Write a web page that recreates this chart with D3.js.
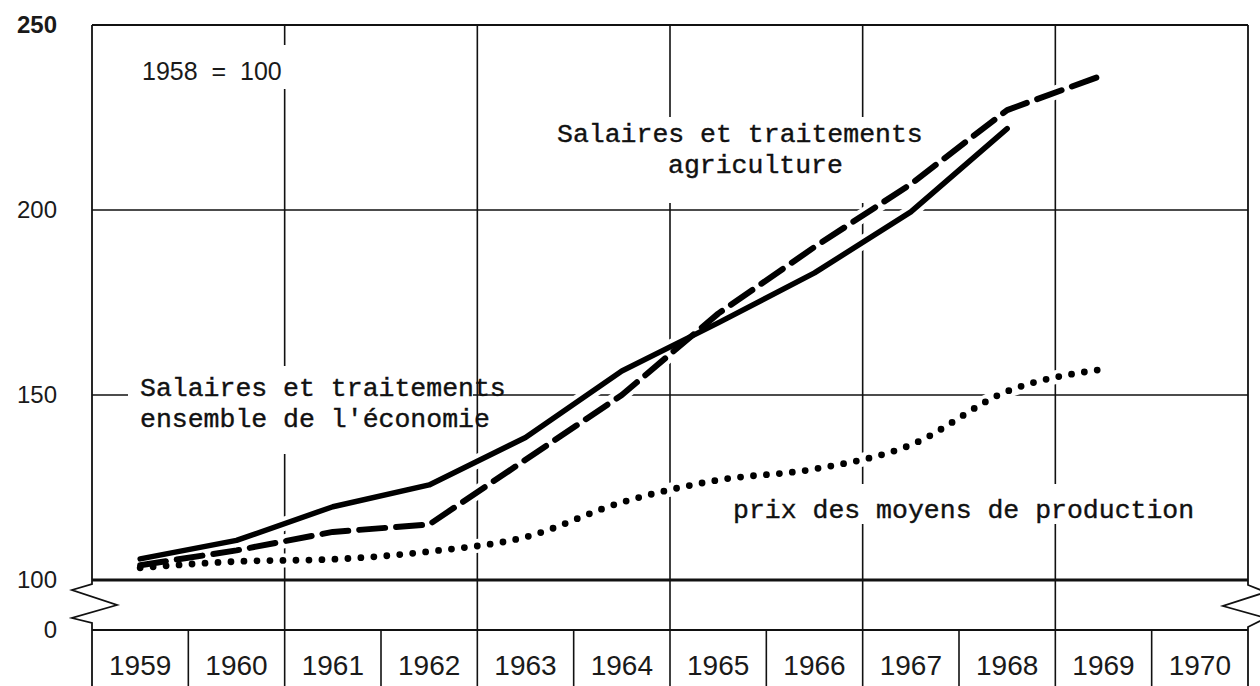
<!DOCTYPE html>
<html>
<head>
<meta charset="utf-8">
<script src="https://cdnjs.cloudflare.com/ajax/libs/d3/7.8.5/d3.min.js"></script>
<style>
  html, body { margin: 0; padding: 0; background: #fff; }
  svg { display: block; }
  .tick-label { font-family: "Liberation Sans", Arial, sans-serif; fill: #1a1a1a; }
  .mono { font-family: "Liberation Mono", "Courier New", monospace; fill: #111; stroke: #111; stroke-width: 0.4px; }
</style>
</head>
<body>
<svg class="chart"></svg>
<script>
"use strict";

var width = 1260;
var height = 686;

// index values, 1958 = 100
var years = ["1959", "1960", "1961", "1962", "1963", "1964", "1965", "1966", "1967", "1968", "1969", "1970"];
var ensemble = [105.7, 110.7, 119.8, 125.7, 138.5, 156.5, 169.5, 183, 199.5, 222];
var agriculture = [104, 108, 113, 115, 132.5, 150, 172, 190, 207, 227, 236.5];
var prixProduction = [103.3, 105, 105.6, 107.7, 111.6, 121, 127, 130, 136.5, 151, 157];
var yTicks = [250, 200, 150, 100];
var zeroLabel = "0";

var svg = d3.select(".chart").attr("width", width).attr("height", height);

var plotLeft = 92, plotRight = 1248, plotTop = 25, breakY = 630;

var x = d3.scaleBand().domain(years).range([plotLeft, plotRight]).padding(0);
var y = d3.scaleLinear().domain([100, 250]).range([580, plotTop]);

var cx = function (i) {
  return x(years[i]) + x.bandwidth() / 2;
};

var grid = svg.append("g").attr("stroke", "#111").attr("fill", "none");

// horizontal rules
grid.selectAll("line.h").data([200, 150]).enter().append("line")
  .attr("x1", plotLeft).attr("x2", plotRight)
  .attr("y1", function (d) { return y(d); }).attr("y2", function (d) { return y(d); })
  .attr("stroke-width", 1.6);
grid.append("line").attr("x1", plotLeft).attr("x2", plotRight).attr("y1", y(250)).attr("y2", y(250)).attr("stroke-width", 2.2);

// vertical rules every two years, running through the break strip
var majors = years.filter(function (d, i) { return i % 2 === 0 && i > 0; });
grid.selectAll("line.v").data(majors).enter().append("line")
  .attr("x1", function (d) { return x(d); }).attr("x2", function (d) { return x(d); })
  .attr("y1", plotTop).attr("y2", breakY)
  .attr("stroke-width", 1.6);

// white boxes behind the captions (the draughtsman left the grid open there)
var holes = [[135, 45, 165, 44], [550, 117, 382, 86], [128, 366, 345, 88], [724, 484, 478, 40]];
svg.selectAll("rect.hole").data(holes).enter().append("rect")
  .attr("x", function (d) { return d[0]; }).attr("y", function (d) { return d[1]; })
  .attr("width", function (d) { return d[2]; }).attr("height", function (d) { return d[3]; })
  .attr("fill", "#fff");

// frame with broken axis
var frame = svg.append("g").attr("stroke", "#111").attr("fill", "none").attr("stroke-width", 1.8);
frame.append("path").attr("d", "M" + plotLeft + "," + plotTop + "V584L72,590L117,605L72,618L" + plotLeft + ",623V" + height);
frame.append("path").attr("d", "M" + plotRight + "," + plotTop + "V585L1266,592L1223,606L1266,618L" + plotRight + ",627V" + height);
frame.append("line").attr("x1", plotLeft).attr("x2", plotRight).attr("y1", y(100)).attr("y2", y(100)).attr("stroke-width", 3.2);
frame.append("line").attr("x1", plotLeft).attr("x2", plotRight).attr("y1", breakY).attr("y2", breakY).attr("stroke-width", 2);
frame.selectAll("line.box").data(years.slice(1)).enter().append("line")
  .attr("x1", function (d) { return x(d); }).attr("x2", function (d) { return x(d); })
  .attr("y1", breakY).attr("y2", height)
  .attr("stroke-width", 1.6);

// series
var straight = d3.line().x(function (d, i) { return cx(i); }).y(function (d) { return y(d); });
var smooth = d3.line().x(function (d, i) { return cx(i); }).y(function (d) { return y(d); }).curve(d3.curveMonotoneX);

var series = [
  { values: ensemble, gen: straight, dash: null, w: 5.5 },
  { values: agriculture, gen: straight, dash: "26 11", w: 6 },
  { values: prixProduction, gen: smooth, dash: "0 13", w: 6.8 }
];

svg.selectAll("path.casing").data(series).enter().append("path")
  .attr("d", function (d) { return d.gen(d.values); })
  .attr("fill", "none").attr("stroke", "#fff").attr("stroke-width", 14)
  .attr("stroke-linejoin", "round");

svg.selectAll("path.serie").data(series).enter().append("path")
  .attr("d", function (d) { return d.gen(d.values); })
  .attr("fill", "none").attr("stroke", "#000")
  .attr("stroke-width", function (d) { return d.w; })
  .attr("stroke-dasharray", function (d) { return d.dash; })
  .attr("stroke-linecap", "round").attr("stroke-linejoin", "round");

// y axis labels
var yAxis = d3.axisLeft(y).tickValues(yTicks).tickSize(0).tickPadding(35).tickFormat(d3.format("d"));
var ya = svg.append("g").attr("transform", "translate(" + plotLeft + ",0)").call(yAxis);
ya.select(".domain").remove();
ya.selectAll("text").attr("class", "tick-label").style("font-size", "24px")
  .style("font-weight", function (d) { return d === 250 ? "bold" : "normal"; });
svg.append("text").attr("class", "tick-label").attr("x", plotLeft - 35).attr("y", breakY).attr("dy", "0.32em")
  .attr("text-anchor", "end").style("font-size", "24px").text(zeroLabel);

// year labels
var xAxis = d3.axisBottom(x).tickSize(0);
var xa = svg.append("g").attr("transform", "translate(0," + breakY + ")").call(xAxis);
xa.select(".domain").remove();
xa.selectAll("text").attr("class", "tick-label").attr("y", 45).attr("dy", 0).style("font-size", "28px");

// captions
svg.append("text").attr("class", "tick-label").attr("x", 142).attr("y", 80)
  .attr("xml:space", "preserve").style("font-size", "25px").text("1958  =  100");

var mono = function (txt, px, py) {
  svg.append("text").attr("class", "mono").attr("x", px).attr("y", py)
    .style("font-size", "26.5px").text(txt);
};
mono("Salaires et traitements", 557, 142);
mono("agriculture", 668, 173);
mono("Salaires et traitements", 140, 396);
mono("ensemble de l'économie", 140, 427);
mono("prix des moyens de production", 733, 518);
</script>
</body>
</html>
